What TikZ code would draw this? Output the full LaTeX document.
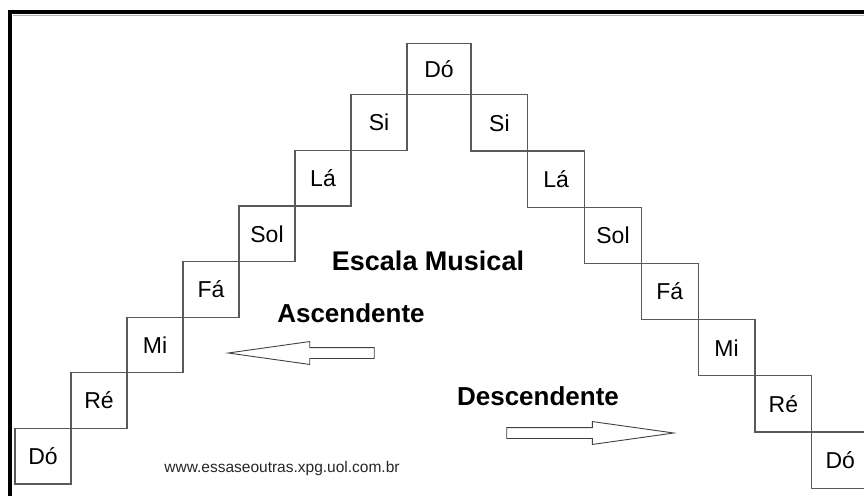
\documentclass[tikz,border=0pt]{standalone}
\usepackage{fontspec}
\setmainfont{Liberation Sans}
\usetikzlibrary{shapes.arrows,positioning}

\begin{document}
\begin{tikzpicture}[x=1pt,y=-1pt]
\tikzset{NOTE/.style={draw=black!65,line width=1.2pt,rectangle,text centered,inner sep=0pt,outer sep=0pt,font=\fontsize{23}{25}\selectfont}}
\tikzset{UP STEP/.style={NOTE,minimum width=56pt,minimum height=55.6pt,anchor=south west}}
\tikzset{DOWN STEP/.style={NOTE,minimum width=56.8pt,minimum height=56.2pt,anchor=north west}}
\tikzset{TITLE/.style={font=\fontsize{26}{30}\selectfont\bfseries}}
\tikzset{WEB/.style={font=\fontsize{15.5}{18}\selectfont,text=black!85}}
\tikzset{DIRECTION/.style={draw=black!75,line width=0.9pt,single arrow,single arrow head extend=6pt,single arrow tip angle=16,inner xsep=0pt,inner ysep=5pt,minimum height=146pt,anchor=tip}}
\tikzset{FRAME/.style={line width=4pt,line join=miter}}

\useasboundingbox (0,0) rectangle (864,495);

% moldura
\draw[black!30,line width=1.2pt] (13,15.5) -- (870,15.5);
\draw[FRAME] (10,505) -- (10,12) -- (875,12);

% escada que sobe
\node[UP STEP] (up0) at (15,484) {Dó};
\foreach \name [count=\i, remember=\i as \j (initially 0)] in {Ré,Mi,Fá,Sol,Lá,Si}
  \node[UP STEP] (up\i) at (up\j.north east) {\name};

\node[NOTE,minimum width=64pt,minimum height=51pt,anchor=south west] (top) at (up6.north east) {Dó};

% escada que desce
\node[DOWN STEP] (down0) at (top.south east) {Si};
\foreach \name [count=\i, remember=\i as \j (initially 0)] in {Lá,Sol,Fá,Mi,Ré,Dó}
  \node[DOWN STEP] (down\i) at (down\j.south east) {\name};

\node[TITLE,font=\fontsize{27}{30}\selectfont\bfseries] (title) at (428,261) {Escala Musical};
\node[TITLE] (asc) at (351,313) {Ascendente};
\node[TITLE] (desc) at (538,396) {Descendente};

\node[DIRECTION,shape border rotate=180] (asc arrow) at (225,353) {};
\node[DIRECTION,minimum height=167pt] (desc arrow) at (677,433) {};

\node[WEB] (site) at (282,468) {www.essaseoutras.xpg.uol.com.br};

\end{tikzpicture}
\end{document}
